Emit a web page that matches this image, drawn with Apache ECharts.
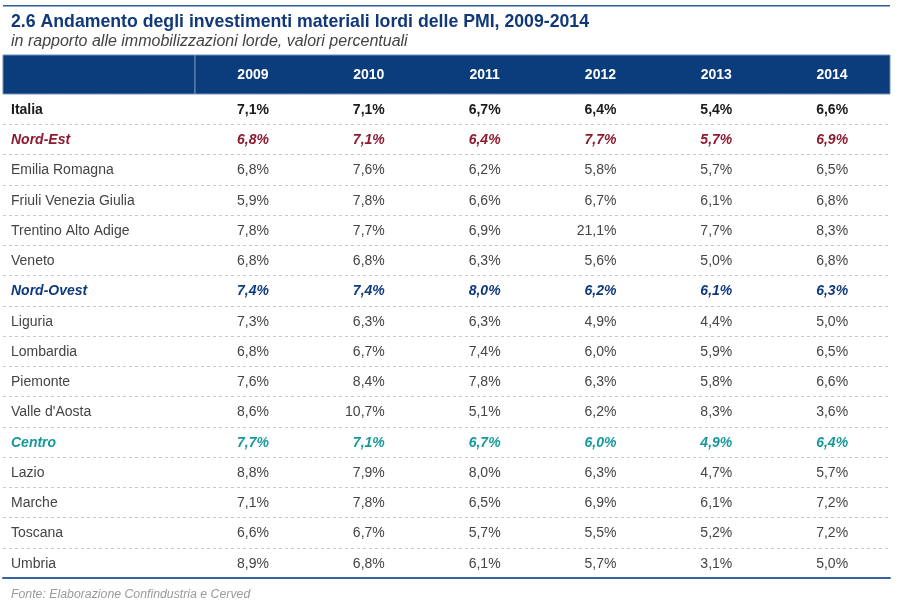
<!DOCTYPE html>
<html>
<head>
<meta charset="utf-8">
<script src="https://cdn.jsdelivr.net/npm/echarts@6/dist/echarts.min.js"></script>
<style>html,body{margin:0;padding:0;background:#fff}#c{width:899px;height:603px}</style>
</head>
<body>
<div id="c"></div>
<script>
// ---- data ----
const years = ['2009', '2010', '2011', '2012', '2013', '2014'];
const regions = ['Italia', 'Nord-Est', 'Emilia Romagna', 'Friuli Venezia Giulia', 'Trentino Alto Adige', 'Veneto',
  'Nord-Ovest', 'Liguria', 'Lombardia', 'Piemonte', "Valle d'Aosta", 'Centro', 'Lazio', 'Marche', 'Toscana', 'Umbria'];
const v2009 = [7.1, 6.8, 6.8, 5.9, 7.8, 6.8, 7.4, 7.3, 6.8, 7.6, 8.6, 7.7, 8.8, 7.1, 6.6, 8.9];
const v2010 = [7.1, 7.1, 7.6, 7.8, 7.7, 6.8, 7.4, 6.3, 6.7, 8.4, 10.7, 7.1, 7.9, 7.8, 6.7, 6.8];
const v2011 = [6.7, 6.4, 6.2, 6.6, 6.9, 6.3, 8.0, 6.3, 7.4, 7.8, 5.1, 6.7, 8.0, 6.5, 5.7, 6.1];
const v2012 = [6.4, 7.7, 5.8, 6.7, 21.1, 5.6, 6.2, 4.9, 6.0, 6.3, 6.2, 6.0, 6.3, 6.9, 5.5, 5.7];
const v2013 = [5.4, 5.7, 5.7, 6.1, 7.7, 5.0, 6.1, 4.4, 5.9, 5.8, 8.3, 4.9, 4.7, 6.1, 5.2, 3.1];
const v2014 = [6.6, 6.9, 6.5, 6.8, 8.3, 6.8, 6.3, 5.0, 6.5, 6.6, 3.6, 6.4, 5.7, 7.2, 7.2, 5.0];
const titleText = '2.6 Andamento degli investimenti materiali lordi delle PMI, 2009-2014';
const subtitleText = 'in rapporto alle immobilizzazioni lorde, valori percentuali';
const sourceText = 'Fonte: Elaborazione Confindustria e Cerved';

// ---- styles (kept apart from data) ----
const FONT = '"Liberation Sans", Arial, Helvetica, sans-serif';
const rowStyle = {
  'Italia': { color: '#1a1a1a', fontWeight: 'bold', fontStyle: 'normal' },
  'Nord-Est': { color: '#8c1a30', fontWeight: 'bold', fontStyle: 'italic' },
  'Nord-Ovest': { color: '#0f3a7c', fontWeight: 'bold', fontStyle: 'italic' },
  'Centro': { color: '#17999a', fontWeight: 'bold', fontStyle: 'italic' }
};
const normalStyle = { color: '#444444', fontWeight: 'normal', fontStyle: 'normal' };
const styleOf = name => rowStyle[name] || normalStyle;
const fmt = v => v.toFixed(1).replace('.', ',') + '%';

const valueCols = [v2009, v2010, v2011, v2012, v2013, v2014];
const cellData = [];
valueCols.forEach((col, ci) => col.forEach((v, ri) => cellData.push([years[ci], regions[ri], v])));
const labelData = regions.map(r => ['r', r]);

const chart = echarts.init(document.getElementById('c'), null, { renderer: 'canvas' });

const HEAD_TOP = 55, HEAD_H = 39, BODY_TOP = 94, BODY_BOTTOM = 25;
const LEFT = 3, SPLIT = 195, RIGHT = 9;
const headBg = '#0b3d7d', headBorder = '#6f8fbd';

const option = {
  animation: false,
  textStyle: { fontFamily: FONT },
  title: [
    { text: titleText, left: 6, top: 8, textStyle: { fontFamily: FONT, fontSize: 17.7, fontWeight: 'bold', color: '#10397a' } },
    { text: subtitleText, left: 6, top: 29, textStyle: { fontFamily: FONT, fontSize: 16, fontStyle: 'italic', fontWeight: 'normal', color: '#444' } },
    { text: sourceText, left: 6, top: 584, textStyle: { fontFamily: FONT, fontSize: 12.3, fontStyle: 'italic', fontWeight: 'normal', color: '#9a9a9a' } }
  ],
  graphic: [
    { type: 'rect', shape: { x: LEFT, y: 5, width: 899 - LEFT - RIGHT, height: 1.5 }, style: { fill: '#2f5b97' }, silent: true }
  ],
  grid: [
    { left: LEFT, top: HEAD_TOP, width: SPLIT - LEFT, height: HEAD_H, show: true, backgroundColor: headBg, borderColor: headBorder, borderWidth: 1 },
    { left: SPLIT, top: HEAD_TOP, right: RIGHT, height: HEAD_H, show: true, backgroundColor: headBg, borderColor: headBorder, borderWidth: 1 },
    { left: LEFT, top: BODY_TOP, width: SPLIT - LEFT, bottom: BODY_BOTTOM },
    { left: SPLIT, top: BODY_TOP, right: RIGHT, bottom: BODY_BOTTOM }
  ],
  xAxis: [
    { gridIndex: 0, type: 'category', data: [''], show: false },
    { gridIndex: 1, type: 'category', data: years, show: false },
    { gridIndex: 2, type: 'category', data: ['r'], position: 'bottom',
      axisLine: { show: true, lineStyle: { color: '#3763a3', width: 2 } }, axisTick: { show: false }, axisLabel: { show: false } },
    { gridIndex: 3, type: 'category', data: years, position: 'bottom',
      axisLine: { show: true, lineStyle: { color: '#3763a3', width: 2 } }, axisTick: { show: false }, axisLabel: { show: false } }
  ],
  yAxis: [
    { gridIndex: 0, type: 'category', data: [''], show: false },
    { gridIndex: 1, type: 'category', data: [''], show: false },
    { gridIndex: 2, type: 'category', data: regions, inverse: true,
      axisLine: { show: false }, axisTick: { show: false }, axisLabel: { show: false },
      splitLine: { show: true, lineStyle: { color: '#c9c9c9', type: [3, 3], width: 1 } } },
    { gridIndex: 3, type: 'category', data: regions, inverse: true,
      axisLine: { show: false }, axisTick: { show: false }, axisLabel: { show: false },
      splitLine: { show: true, lineStyle: { color: '#c9c9c9', type: [3, 3], width: 1 } } }
  ],
  series: [
    {
      type: 'custom', xAxisIndex: 1, yAxisIndex: 1,
      data: years.map(y => [y, '']),
      renderItem: (params, api) => {
        const p = api.coord([api.value(0), api.value(1)]);
        return { type: 'text', x: p[0], y: p[1] + 1, style: {
          text: years[params.dataIndex], fill: '#ffffff', font: 'bold 14px ' + FONT,
          align: 'center', verticalAlign: 'middle' } };
      }
    },
    {
      type: 'custom', xAxisIndex: 2, yAxisIndex: 2,
      data: labelData,
      renderItem: (params, api) => {
        const p = api.coord([api.value(0), api.value(1)]);
        const w = api.size([1, 0])[0];
        const name = regions[params.dataIndex];
        const s = styleOf(name);
        return { type: 'text', x: p[0] - w / 2 + 8, y: p[1] + 1, style: {
          text: name, fill: s.color, font: s.fontStyle + ' ' + s.fontWeight + ' 14px ' + FONT,
          align: 'left', verticalAlign: 'middle' } };
      }
    },
    {
      type: 'custom', xAxisIndex: 3, yAxisIndex: 3,
      data: cellData,
      renderItem: (params, api) => {
        const d = cellData[params.dataIndex];
        const p = api.coord([d[0], d[1]]);
        const s = styleOf(d[1]);
        return { type: 'text', x: p[0] + 16, y: p[1] + 1, style: {
          text: fmt(d[2]), fill: s.color, font: s.fontStyle + ' ' + s.fontWeight + ' 14px ' + FONT,
          align: 'right', verticalAlign: 'middle' } };
      }
    }
  ]
};
chart.setOption(option);
</script>
</body>
</html>
